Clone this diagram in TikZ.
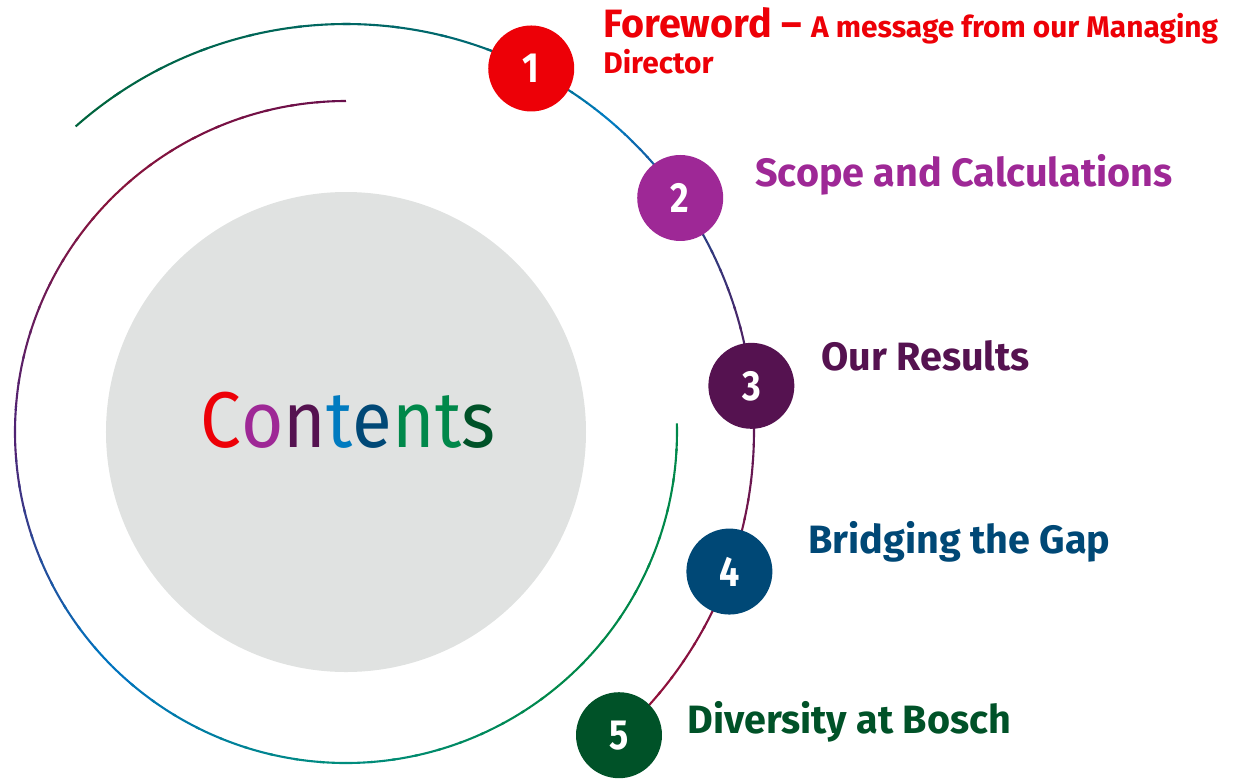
\documentclass[tikz,border=0pt]{standalone}
\usepackage{fontspec}
\setmainfont{Fira Sans}
\newfontfamily\boschfont{Fira Sans}
\newfontfamily\titlefont{Fira Sans}[FakeStretch=0.92]
\newfontfamily\digitfont{Fira Sans}[FakeStretch=0.85]
\definecolor{bRed}{RGB}{237,0,7}
\definecolor{bPurple}{RGB}{158,40,150}
\definecolor{bPlum}{RGB}{85,18,80}
\definecolor{bBlue}{RGB}{0,123,192}
\definecolor{bNavy}{RGB}{0,72,118}
\definecolor{bGreen}{RGB}{0,136,74}
\definecolor{bForest}{RGB}{0,82,40}
\definecolor{bGrey}{RGB}{224,226,225}
% ring colour stops
\definecolor{iA}{RGB}{105,15,75}
\definecolor{iB}{RGB}{135,20,60}
\definecolor{iC}{RGB}{80,35,115}
\definecolor{iD}{RGB}{0,115,190}
\definecolor{iE}{RGB}{0,140,125}
\definecolor{oA}{RGB}{0,100,62}
\definecolor{oB}{RGB}{0,105,120}
\definecolor{oC}{RGB}{35,70,140}
\definecolor{oD}{RGB}{85,25,90}
\definecolor{oE}{RGB}{125,20,70}
\definecolor{oF}{RGB}{150,15,55}
\usetikzlibrary{positioning,calc}

\begin{document}
\begin{tikzpicture}[x=0.02cm, y=0.02cm,
    ring/.style={line width=1.2pt},
    numdot/.style={circle, minimum size=1.72cm, inner sep=0pt, text=white,
      font=\digitfont\bfseries\fontsize{24}{26}\selectfont},
    toc/.style={anchor=base west, inner sep=0pt,
      font=\boschfont\bfseries\fontsize{22.5}{26}\selectfont},
    tocsmall/.style={toc, font=\boschfont\bfseries\fontsize{17}{20}\selectfont}]
    \useasboundingbox (-346,-347) rectangle (888,432);
    % Centre disc
    \fill[bGrey] (0,0) circle (240);
    \node[anchor=base, inner sep=0pt, font=\titlefont\fontsize{45}{50}\selectfont] (title) at (2,-15)
      {\textcolor{bRed}{C}\textcolor{bPurple}{o}\textcolor{bPlum}{n}\textcolor{bBlue}{t}\textcolor{bNavy}{e}\textcolor{bGreen}{n}\textcolor{bGreen}{t}\textcolor{bForest}{s}};
    % Inner ring, shaded piece by piece
    \foreach \aS/\aE/\cS/\cE in {90/135/iA/iB, 135/180/iB/iC, 180/225/iC/iD,
        225/270/iD/iE, 270/310/iE/bGreen, 310/361.5/bGreen/bGreen} {
      \foreach \k in {0,...,9} {
        \pgfmathsetmacro\aa{\aS+(\aE-\aS)*\k/10}
        \pgfmathsetmacro\ab{\aS+(\aE-\aS)*min(\k+1.15,10)/10}
        \pgfmathtruncatemacro\mix{100-100*\k/9}
        \draw[ring, \cS!\mix!\cE] (\aa:331) arc[start angle=\aa, end angle=\ab, radius=331];
      }
    }
    % Outer ring through the numbers
    \foreach \aS/\aE/\cS/\cE in {131.5/63/oA/oB, 63/50/oB/bBlue, 50/35/bBlue/oC,
        35/6.5/oC/oD, 6.5/-20/oD/oE, -20/-48/oE/oF} {
      \foreach \k in {0,...,9} {
        \pgfmathsetmacro\aa{\aS+(\aE-\aS)*\k/10}
        \pgfmathsetmacro\ab{\aS+(\aE-\aS)*min(\k+1.15,10)/10}
        \pgfmathtruncatemacro\mix{100-100*\k/9}
        \draw[ring, \cS!\mix!\cE] (\aa:408) arc[start angle=\aa, end angle=\ab, radius=408];
      }
    }
    % Numbered dots
    \foreach \n/\ang/\col in {1/63/bRed, 2/35/bPurple, 3/6.5/bPlum, 4/-20/bNavy, 5/-48/bForest}
      \node[numdot, fill=\col] (n\n) at (\ang:408) {\n};
    % Chapter titles
    \node[toc, bRed] (t1) at (257,395)
      {Foreword – {\fontsize{17}{20}\selectfont A message from our Managing}};
    \node[tocsmall, bRed] (t1b) at (257,359) {Director};
    \node[toc, bPurple] (t2) at (409,246) {Scope and Calculations};
    \node[toc, bPlum] (t3) at (475,62) {Our Results};
    \node[toc, bNavy] (t4) at (462,-121) {Bridging the Gap};
    \node[toc, bForest] (t5) at (341,-301) {Diversity at Bosch};
  \end{tikzpicture}
\end{document}
